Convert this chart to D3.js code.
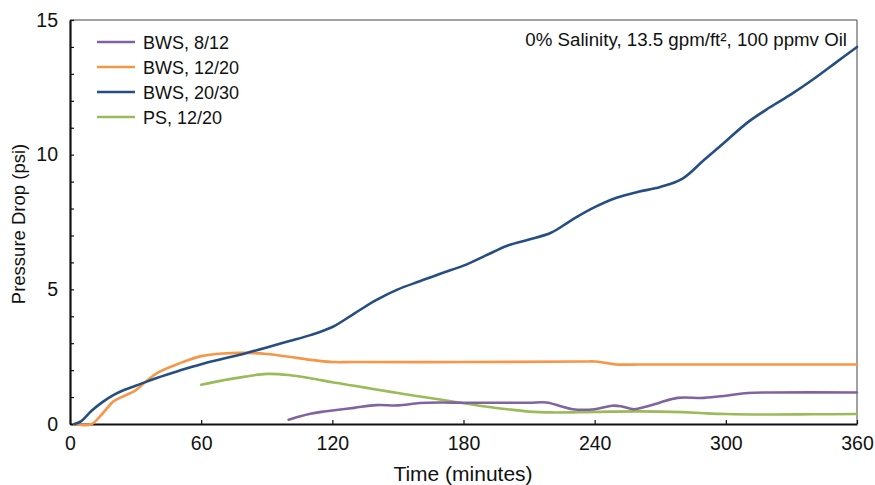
<!DOCTYPE html>
<meta charset="utf-8">
<html>
<head>
    <style>
        body { margin: 0; background: #fff; }
        svg text { font-family: 'Liberation Sans', Arial, Helvetica, sans-serif; fill: #111; }
        .tick text { font-size: 19.5px; }
        .axis path, .axis line { stroke: #111; }
        .series { fill: none; stroke-width: 2.6; stroke-linejoin: round; stroke-linecap: round; }
    </style>
</head>
<body>
<svg id="chart"></svg>
<script src="https://cdn.jsdelivr.net/npm/d3@7"></script>
<script>
    // series names and colours (legend order)
    var seriesNames = ["BWS, 8/12", "BWS, 12/20", "BWS, 20/30", "PS, 12/20"];
    var seriesColors = ["#8064a2", "#f79646", "#254e82", "#9bbb59"];

    // time (minutes) / pressure drop (psi)
    var bws812Time = [100, 105, 110, 115, 120, 130, 140, 150, 160, 170, 180, 200, 210, 218, 225, 230, 240, 248, 252, 258, 265, 270, 278, 290, 300, 310, 320, 360];
    var bws812Psi  = [0.16, 0.28, 0.38, 0.45, 0.5, 0.6, 0.7, 0.69, 0.78, 0.8, 0.79, 0.79, 0.79, 0.8, 0.65, 0.55, 0.55, 0.68, 0.66, 0.55, 0.68, 0.8, 0.97, 0.97, 1.05, 1.15, 1.17, 1.17];

    var bws1220Time = [2, 6, 10, 15, 20, 25, 30, 35, 40, 50, 60, 70, 80, 90, 100, 110, 120, 130, 180, 235, 240, 245, 250, 260, 360];
    var bws1220Psi  = [0, -0.04, 0, 0.4, 0.85, 1.05, 1.25, 1.6, 1.9, 2.25, 2.52, 2.62, 2.64, 2.6, 2.5, 2.38, 2.3, 2.3, 2.3, 2.32, 2.32, 2.27, 2.21, 2.21, 2.21];

    var bws2030Time = [2, 5, 10, 15, 20, 25, 30, 40, 50, 60, 70, 80, 90, 100, 110, 120, 130, 140, 150, 160, 170, 180, 190, 200, 210, 220, 230, 240, 250, 260, 270, 280, 290, 300, 310, 320, 330, 340, 350, 360];
    var bws2030Psi  = [0, 0.1, 0.5, 0.82, 1.08, 1.27, 1.42, 1.72, 1.98, 2.22, 2.42, 2.62, 2.84, 3.07, 3.3, 3.6, 4.1, 4.6, 5.0, 5.3, 5.6, 5.88, 6.25, 6.62, 6.85, 7.1, 7.6, 8.05, 8.4, 8.62, 8.8, 9.1, 9.8, 10.5, 11.2, 11.75, 12.25, 12.8, 13.4, 14.0];

    var ps1220Time = [60, 70, 80, 90, 100, 110, 120, 130, 140, 150, 160, 170, 180, 190, 200, 210, 220, 240, 260, 280, 290, 300, 320, 340, 360];
    var ps1220Psi  = [1.46, 1.62, 1.76, 1.86, 1.82, 1.7, 1.55, 1.42, 1.28, 1.15, 1.02, 0.9, 0.77, 0.65, 0.55, 0.46, 0.43, 0.45, 0.47, 0.44, 0.4, 0.37, 0.35, 0.36, 0.37];

    var xTicks = [0, 60, 120, 180, 240, 300, 360];
    var yTicks = [0, 5, 10, 15];
    var annotation = "0% Salinity, 13.5 gpm/ft\u00b2, 100 ppmv Oil";

    var allTimes = [bws812Time, bws1220Time, bws2030Time, ps1220Time];
    var allPsi = [bws812Psi, bws1220Psi, bws2030Psi, ps1220Psi];

    var W = 875, H = 485;
    var margin = { top: 20, right: 18, bottom: 61, left: 70 },
        width = W - margin.left - margin.right,
        height = H - margin.top - margin.bottom;

    var svg = d3.select("#chart").attr("width", W).attr("height", H);
    var g = svg.append("g").attr("transform", "translate(" + margin.left + "," + margin.top + ")");

    var x = d3.scaleLinear().domain([0, 360]).range([0, width]);
    var y = d3.scaleLinear().domain([0, 15]).range([height, 0]);

    // top and right frame
    g.append("line").attr("x1", 0).attr("x2", width).attr("y1", 0).attr("y2", 0)
        .attr("stroke", "#444").attr("stroke-width", 1);
    g.append("line").attr("x1", width).attr("x2", width).attr("y1", 0).attr("y2", height)
        .attr("stroke", "#444").attr("stroke-width", 1);

    // minor y ticks every 1 psi
    g.append("g").attr("class", "axis")
        .call(d3.axisLeft(y).tickValues(d3.range(0, 16)).tickSize(-4).tickFormat(""))
        .call(function (s) { s.select(".domain").remove(); })
        .selectAll("line").attr("stroke-width", 1.2);

    // x axis
    var xa = g.append("g").attr("class", "axis")
        .attr("transform", "translate(0," + height + ")")
        .call(d3.axisBottom(x).tickValues(xTicks).tickSize(-4).tickSizeOuter(0).tickPadding(12));
    xa.select(".domain").attr("stroke-width", 2.2);
    xa.selectAll("line").attr("stroke-width", 1.2);

    // y axis
    var ya = g.append("g").attr("class", "axis")
        .call(d3.axisLeft(y).tickValues(yTicks).tickSize(0).tickSizeOuter(0).tickPadding(12));
    ya.select(".domain").attr("stroke-width", 2.2);

    // lines
    var line = d3.line()
        .x(function (d) { return x(d[0]); })
        .y(function (d) { return y(d[1]); })
        .curve(d3.curveCatmullRom.alpha(0.5));

    var drawOrder = [3, 0, 1, 2];
    drawOrder.forEach(function (i) {
        var pts = allTimes[i].map(function (t, k) { return [t, allPsi[i][k]]; });
        g.append("path").attr("class", "series")
            .attr("stroke", seriesColors[i])
            .attr("d", line(pts));
    });

    // legend
    seriesNames.forEach(function (name, i) {
        var ly = 22 + i * 25;
        g.append("line").attr("x1", 27).attr("x2", 65).attr("y1", ly).attr("y2", ly)
            .attr("stroke", seriesColors[i]).attr("stroke-width", 2.6);
        g.append("text").attr("x", 73).attr("y", ly + 6.5)
            .style("font-size", "18px").text(name);
    });

    // annotation
    g.append("text").attr("x", width - 10).attr("y", 26)
        .attr("text-anchor", "end").style("font-size", "18.7px").text(annotation);

    // axis titles
    svg.append("text").attr("x", 463).attr("y", 481)
        .attr("text-anchor", "middle").style("font-size", "21px").text("Time (minutes)");
    svg.append("text").attr("transform", "translate(25," + (margin.top + height / 2 + 2) + ") rotate(-90)")
        .attr("text-anchor", "middle").style("font-size", "18.5px").text("Pressure Drop (psi)");
</script>
</body>
</html>
